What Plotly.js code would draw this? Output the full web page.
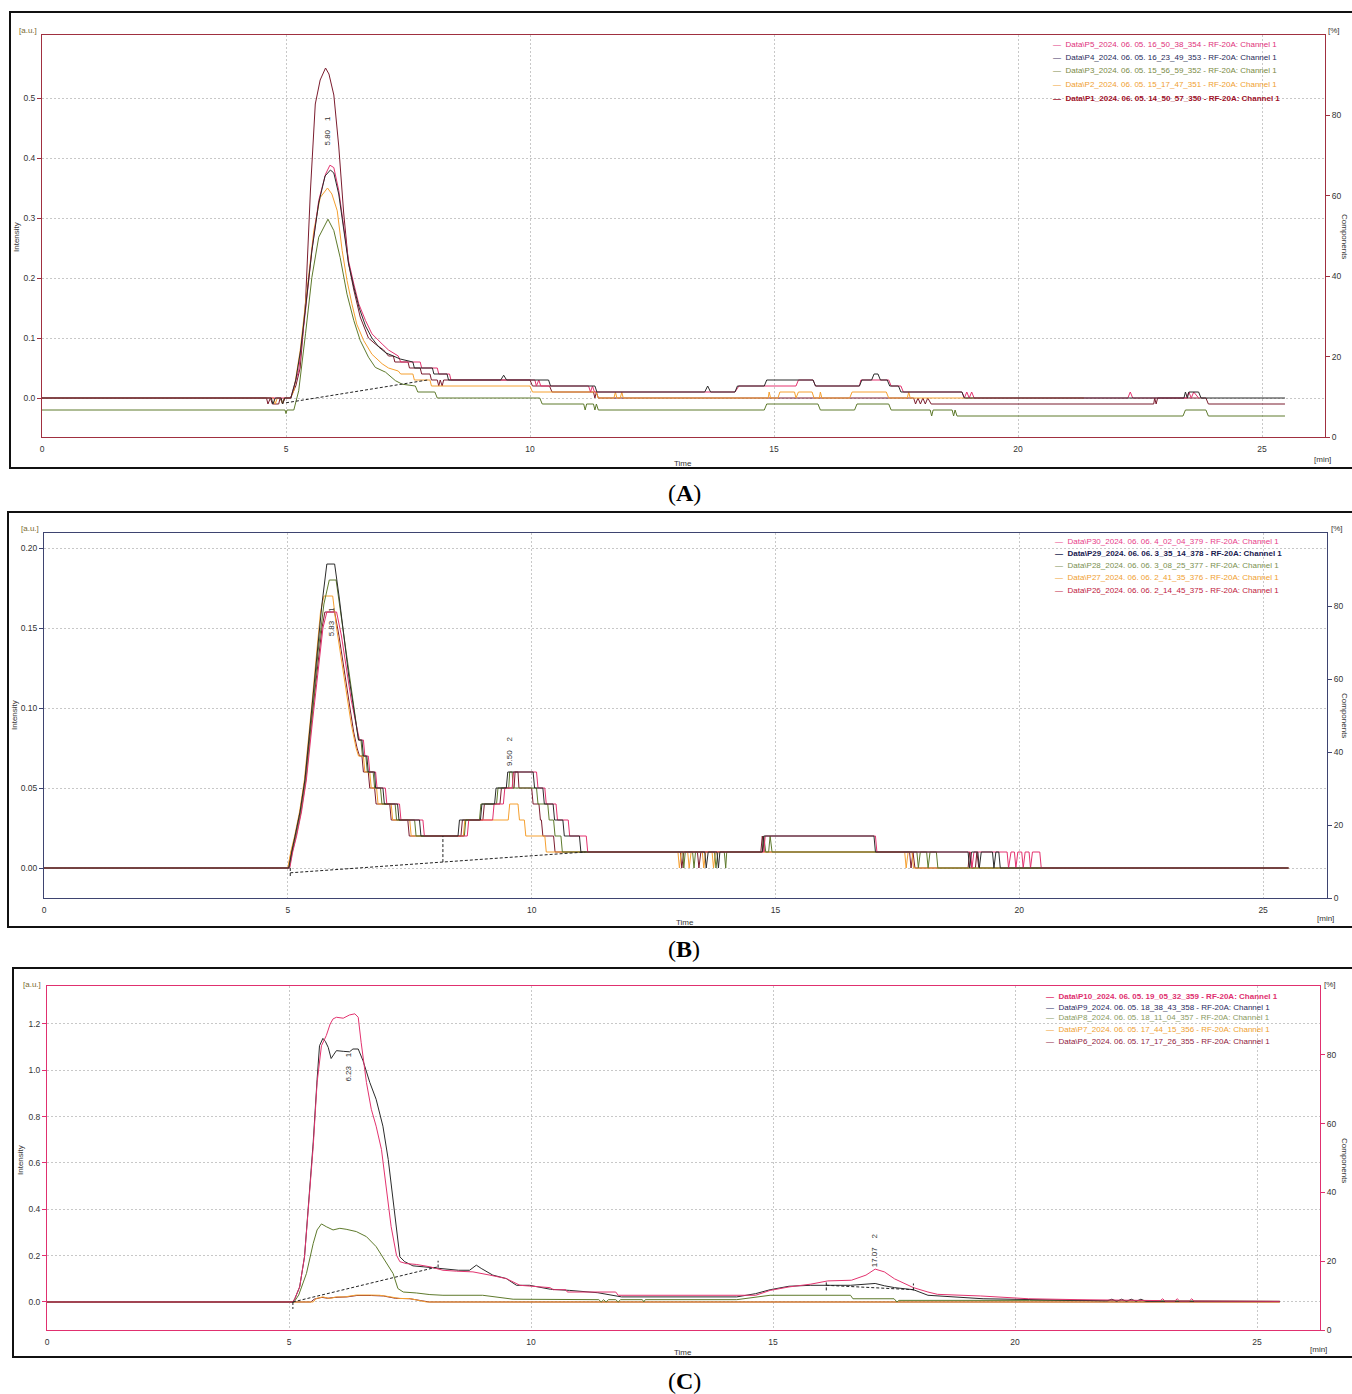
<!DOCTYPE html>
<html><head><meta charset="utf-8">
<script src="https://cdn.plot.ly/plotly-3.0.1.min.js"></script>
<style>html,body{margin:0;padding:0;background:#fff}#chart{width:1352px;height:1394px}</style>
</head><body><div id="chart"></div>
<script>
// ---------------- DATA ----------------
const xTicks = [0, 5, 10, 15, 20, 25];
const rightTicks = [0, 20, 40, 60, 80];
const yTicksA = [0, 0.1, 0.2, 0.3, 0.4, 0.5];
const yTicksB = [0, 0.05, 0.10, 0.15, 0.20];
const yTicksC = [0, 0.2, 0.4, 0.6, 0.8, 1.0, 1.2];

const namesA = [
  'Data\\P5_2024. 06. 05. 16_50_38_354 - RF-20A: Channel 1',
  'Data\\P4_2024. 06. 05. 16_23_49_353 - RF-20A: Channel 1',
  'Data\\P3_2024. 06. 05. 15_56_59_352 - RF-20A: Channel 1',
  'Data\\P2_2024. 06. 05. 15_17_47_351 - RF-20A: Channel 1',
  'Data\\P1_2024. 06. 05. 14_50_57_350 - RF-20A: Channel 1'];
const namesB = [
  'Data\\P30_2024. 06. 06. 4_02_04_379 - RF-20A: Channel 1',
  'Data\\P29_2024. 06. 06. 3_35_14_378 - RF-20A: Channel 1',
  'Data\\P28_2024. 06. 06. 3_08_25_377 - RF-20A: Channel 1',
  'Data\\P27_2024. 06. 06. 2_41_35_376 - RF-20A: Channel 1',
  'Data\\P26_2024. 06. 06. 2_14_45_375 - RF-20A: Channel 1'];
const namesC = [
  'Data\\P10_2024. 06. 05. 19_05_32_359 - RF-20A: Channel 1',
  'Data\\P9_2024. 06. 05. 18_38_43_358 - RF-20A: Channel 1',
  'Data\\P8_2024. 06. 05. 18_11_04_357 - RF-20A: Channel 1',
  'Data\\P7_2024. 06. 05. 17_44_15_356 - RF-20A: Channel 1',
  'Data\\P6_2024. 06. 05. 17_17_26_355 - RF-20A: Channel 1'];

// Panel A series [time (min), intensity]
const A_P5 = [[0,0],[5.1,0],[5.12,0.007],[5.26,0.046],[5.4,0.146],[5.53,0.246],[5.67,0.329],[5.81,0.373],[5.9,0.388],[5.98,0.384],[6.08,0.346],[6.18,0.284],[6.28,0.229],[6.39,0.19],[6.49,0.157],[6.63,0.129],[6.76,0.107],[6.97,0.09],[7.1,0.08],[7.3,0.07],[7.35,0.06],[7.75,0.06],[7.78,0.05],[8.1,0.05],[8.13,0.04],[8.35,0.04],[8.38,0.03],[10.1,0.03],[10.13,0.02],[10.18,0.03],[10.22,0.02],[11.2,0.02],[11.24,0.01],[11.28,0.02],[11.32,0.01],[14.2,0.01],[14.28,0.02],[15.45,0.02],[15.5,0.03],[15.8,0.03],[15.85,0.02],[16.75,0.02],[16.78,0.03],[17.35,0.03],[17.4,0.02],[17.6,0.02],[17.65,0.01],[18.85,0.01],[18.9,0],[18.95,0.01],[19.0,0],[19.05,0.01],[19.1,0],[22.25,0],[22.3,0.01],[22.35,0],[23.45,0],[23.5,0.01],[23.55,0],[23.6,0.01],[23.7,0]];
const A_P4 = [[0,0],[4.7,0],[4.73,-0.01],[4.78,0],[4.9,0],[4.93,-0.01],[4.97,0],[5.1,0],[5.2,0.03],[5.3,0.08],[5.4,0.15],[5.53,0.245],[5.67,0.325],[5.8,0.37],[5.91,0.38],[5.98,0.375],[6.08,0.34],[6.18,0.28],[6.28,0.225],[6.39,0.185],[6.5,0.15],[6.63,0.12],[6.76,0.1],[6.9,0.085],[7.05,0.075],[7.2,0.07],[7.34,0.065],[7.6,0.06],[7.63,0.05],[8.0,0.05],[8.03,0.04],[8.3,0.04],[8.33,0.03],[9.4,0.03],[9.46,0.038],[9.52,0.03],[10.38,0.03],[10.42,0.02],[11.33,0.02],[11.37,0.01],[13.58,0.01],[13.64,0.02],[13.7,0.01],[14.2,0.01],[14.25,0.02],[14.8,0.02],[14.85,0.03],[15.8,0.03],[15.85,0.02],[16.75,0.02],[16.8,0.03],[17.0,0.03],[17.05,0.04],[17.13,0.04],[17.18,0.03],[17.32,0.03],[17.37,0.02],[17.55,0.02],[17.6,0.01],[18.85,0.01],[18.9,0],[23.4,0],[23.43,0.01],[23.47,0],[23.5,0.01],[23.7,0.01],[23.75,0],[25.47,0]];
const A_P3 = [[0,-0.02],[4.98,-0.02],[5.0,-0.026],[5.02,-0.02],[5.16,-0.02],[5.26,0.012],[5.4,0.107],[5.53,0.201],[5.67,0.268],[5.86,0.298],[5.98,0.279],[6.11,0.234],[6.25,0.173],[6.39,0.129],[6.52,0.096],[6.69,0.068],[6.83,0.051],[7.04,0.043],[7.24,0.029],[7.38,0.023],[7.65,0.02],[7.7,0.01],[8.05,0.01],[8.1,0],[10.2,0],[10.25,-0.01],[11.1,-0.01],[11.13,-0.02],[11.16,-0.01],[11.3,-0.01],[11.33,-0.02],[11.36,-0.01],[11.4,-0.02],[14.8,-0.02],[14.85,-0.01],[15.9,-0.01],[15.95,-0.02],[16.65,-0.02],[16.7,-0.01],[17.35,-0.01],[17.4,-0.02],[18.2,-0.02],[18.23,-0.03],[18.26,-0.02],[18.65,-0.02],[18.68,-0.03],[18.71,-0.02],[18.75,-0.03],[23.38,-0.03],[23.43,-0.02],[23.85,-0.02],[23.9,-0.03],[25.47,-0.03]];
const A_P2 = [[0,0],[4.75,0],[4.78,-0.01],[4.82,0],[4.9,0],[4.93,-0.01],[4.96,0],[5.1,0],[5.16,0.012],[5.29,0.079],[5.43,0.179],[5.57,0.279],[5.7,0.334],[5.85,0.35],[5.94,0.34],[6.05,0.312],[6.15,0.246],[6.25,0.196],[6.35,0.157],[6.45,0.123],[6.59,0.096],[6.76,0.073],[6.97,0.057],[7.1,0.05],[7.3,0.045],[7.35,0.04],[7.6,0.04],[7.63,0.03],[7.95,0.03],[7.98,0.02],[10.0,0.02],[10.05,0.01],[11.35,0.01],[11.4,0],[11.72,0],[11.75,0.01],[11.78,0],[11.85,0],[11.88,0.01],[11.91,0],[14.88,0],[14.9,0.01],[14.93,0],[15.08,0],[15.12,0.01],[15.42,0.01],[15.45,0],[15.5,0.01],[15.78,0.01],[15.82,0],[15.93,0],[15.95,0.01],[15.98,0],[16.55,0],[16.6,0.01],[17.3,0.01],[17.35,0],[17.73,0],[17.76,0.01],[17.79,0],[21.35,0]];
const A_P1 = [[0,0],[4.6,0],[4.63,-0.01],[4.68,0],[4.72,-0.01],[4.85,-0.01],[4.88,0],[4.93,-0.01],[4.98,0],[5.09,0],[5.2,0.02],[5.29,0.05],[5.4,0.16],[5.5,0.345],[5.6,0.49],[5.7,0.53],[5.81,0.55],[5.88,0.54],[5.98,0.505],[6.08,0.42],[6.18,0.31],[6.28,0.225],[6.39,0.18],[6.52,0.135],[6.69,0.1],[6.83,0.09],[7.0,0.08],[7.1,0.07],[7.2,0.07],[7.23,0.06],[7.5,0.06],[7.53,0.05],[7.75,0.05],[7.78,0.04],[7.95,0.04],[7.98,0.03],[8.1,0.03],[8.13,0.02],[8.16,0.03],[8.2,0.02],[8.23,0.03],[10.0,0.03],[10.05,0.02],[10.4,0.02],[10.45,0.01],[11.3,0.01],[11.33,0],[11.36,0.01],[11.4,0],[17.86,0],[17.9,-0.01],[17.95,0],[18.0,-0.01],[18.05,0],[18.1,-0.01],[18.15,0],[18.22,-0.01],[22.78,-0.01],[22.8,0],[22.83,-0.01],[22.86,0],[23.85,0],[23.9,-0.01],[25.47,-0.01]];
const A_base = [[5.0,-0.008],[7.9,0.03]];

// Panel B series
const B_P30 = [[0,0],[5.04,0],[5.1,0.01],[5.18,0.02],[5.28,0.035],[5.38,0.055],[5.5,0.09],[5.62,0.125],[5.72,0.15],[5.8,0.16],[6.0,0.16],[6.1,0.145],[6.2,0.125],[6.3,0.105],[6.4,0.09],[6.47,0.08],[6.55,0.08],[6.58,0.07],[6.65,0.07],[6.68,0.06],[6.8,0.06],[6.83,0.05],[7.0,0.05],[7.03,0.04],[7.29,0.04],[7.32,0.03],[7.77,0.03],[7.8,0.02],[8.68,0.02],[8.71,0.03],[9.2,0.03],[9.23,0.04],[9.42,0.04],[9.45,0.05],[9.6,0.05],[9.63,0.06],[10.1,0.06],[10.13,0.05],[10.27,0.05],[10.3,0.04],[10.5,0.04],[10.53,0.03],[10.75,0.03],[10.78,0.02],[11.12,0.02],[11.15,0.01],[14.76,0.01],[14.79,0.02],[17.05,0.02],[17.08,0.01],[19.0,0.01],[19.03,0],[19.07,0.01],[19.75,0.01],[19.78,0],[19.83,0.01],[19.9,0.01],[19.93,0],[19.97,0.01],[20.05,0.01],[20.08,0],[20.12,0.01],[20.2,0.01],[20.23,0],[20.27,0.01],[20.42,0.01],[20.45,0],[25.52,0]];
const B_P29 = [[0,0],[5.02,0],[5.08,0.01],[5.15,0.02],[5.25,0.035],[5.35,0.055],[5.48,0.095],[5.6,0.135],[5.7,0.165],[5.8,0.19],[5.96,0.19],[6.05,0.17],[6.15,0.145],[6.25,0.12],[6.35,0.1],[6.45,0.08],[6.52,0.08],[6.55,0.07],[6.62,0.07],[6.65,0.06],[6.78,0.06],[6.8,0.05],[6.95,0.05],[6.98,0.04],[7.25,0.04],[7.28,0.03],[7.7,0.03],[7.73,0.02],[8.49,0.02],[8.52,0.03],[8.95,0.03],[8.98,0.04],[9.24,0.04],[9.27,0.05],[9.48,0.05],[9.51,0.06],[10.03,0.06],[10.06,0.05],[10.23,0.05],[10.26,0.04],[10.44,0.04],[10.47,0.03],[10.64,0.03],[10.67,0.02],[10.98,0.02],[11.01,0.01],[13.55,0.01],[13.58,0],[13.62,0.01],[13.8,0.01],[13.83,0],[13.86,0.01],[14.73,0.01],[14.76,0.02],[17.02,0.02],[17.05,0.01],[18.95,0.01],[18.98,0],[19.02,0.01],[19.15,0.01],[19.18,0],[19.22,0.01],[19.45,0.01],[19.48,0],[19.52,0.01],[19.58,0.01],[19.61,0],[25.52,0]];
const B_P28 = [[0,0],[5.03,0],[5.09,0.01],[5.17,0.02],[5.27,0.035],[5.37,0.055],[5.5,0.095],[5.62,0.135],[5.74,0.165],[5.85,0.18],[5.99,0.18],[6.08,0.16],[6.18,0.14],[6.28,0.115],[6.38,0.095],[6.45,0.08],[6.5,0.08],[6.53,0.07],[6.6,0.07],[6.63,0.06],[6.75,0.06],[6.78,0.05],[6.9,0.05],[6.93,0.04],[7.2,0.04],[7.23,0.03],[7.6,0.03],[7.63,0.02],[8.62,0.02],[8.65,0.03],[8.93,0.03],[8.96,0.04],[9.28,0.04],[9.31,0.05],[9.53,0.05],[9.55,0.06],[9.6,0.06],[9.62,0.05],[10.1,0.05],[10.13,0.04],[10.33,0.04],[10.36,0.03],[10.45,0.03],[10.48,0.02],[10.6,0.02],[10.63,0.01],[13.1,0.01],[13.12,0],[13.15,0.01],[13.3,0.01],[13.33,0],[13.36,0.01],[13.75,0.01],[13.78,0],[13.82,0.01],[13.95,0.01],[13.98,0],[14.0,0.01],[14.73,0.01],[14.76,0.02],[14.8,0.01],[14.86,0.01],[14.89,0.02],[14.93,0.01],[17.9,0.01],[17.93,0],[17.97,0.01],[18.1,0.01],[18.13,0],[18.17,0.01],[18.3,0.01],[18.33,0],[25.52,0]];
const B_P27 = [[0,0],[5.0,0],[5.06,0.01],[5.14,0.02],[5.24,0.035],[5.34,0.055],[5.47,0.095],[5.58,0.13],[5.67,0.16],[5.74,0.17],[5.92,0.17],[6.0,0.15],[6.1,0.13],[6.2,0.11],[6.3,0.09],[6.4,0.075],[6.45,0.07],[6.55,0.07],[6.58,0.06],[6.68,0.06],[6.71,0.05],[6.82,0.05],[6.85,0.04],[7.12,0.04],[7.15,0.03],[7.5,0.03],[7.53,0.02],[8.6,0.02],[8.63,0.03],[9.52,0.03],[9.55,0.04],[9.72,0.04],[9.75,0.03],[9.85,0.03],[9.88,0.02],[10.27,0.02],[10.3,0.01],[13.0,0.01],[13.03,0],[13.07,0.01],[13.2,0.01],[13.23,0],[13.27,0.01],[13.5,0.01],[13.53,0],[13.57,0.01],[13.7,0.01],[13.73,0],[13.77,0.01],[17.65,0.01],[17.68,0],[17.72,0.01],[17.8,0.01],[17.83,0],[25.52,0]];
const B_P26 = [[0,0],[5.01,0],[5.07,0.01],[5.15,0.02],[5.25,0.035],[5.35,0.055],[5.48,0.09],[5.6,0.125],[5.7,0.15],[5.76,0.16],[5.96,0.16],[6.05,0.145],[6.15,0.125],[6.25,0.105],[6.35,0.085],[6.42,0.075],[6.47,0.07],[6.52,0.07],[6.55,0.06],[6.65,0.06],[6.68,0.05],[6.78,0.05],[6.81,0.04],[7.09,0.04],[7.12,0.03],[7.46,0.03],[7.49,0.02],[8.55,0.02],[8.58,0.03],[9.0,0.03],[9.03,0.04],[9.35,0.04],[9.38,0.05],[9.64,0.05],[9.66,0.06],[9.72,0.06],[9.74,0.05],[10.0,0.05],[10.03,0.04],[10.15,0.04],[10.18,0.03],[10.2,0.03],[10.23,0.02],[10.45,0.02],[10.48,0.01],[13.05,0.01],[13.08,0],[13.12,0.01],[13.4,0.01],[13.43,0],[13.47,0.01],[14.7,0.01],[14.73,0.02],[14.77,0.01],[17.75,0.01],[17.78,0],[17.82,0.01],[17.86,0],[18.95,0],[18.98,0.01],[19.02,0],[19.1,0],[19.13,0.01],[19.17,0],[25.52,0]];
const B_base = [[5.05,-0.003],[11.1,0.01]];
const B_cut = [[8.18,0.0037],[8.18,0.02]];
const B_start = [[5.05,0.0],[5.05,-0.006]];

// Panel C series
const C_P10 = [[0,0],[5.08,0],[5.12,0.014],[5.22,0.065],[5.32,0.195],[5.43,0.5],[5.5,0.672],[5.58,0.947],[5.67,1.106],[5.77,1.15],[5.85,1.2],[5.91,1.222],[5.98,1.229],[6.12,1.225],[6.25,1.239],[6.36,1.244],[6.43,1.229],[6.49,1.121],[6.6,0.947],[6.7,0.832],[6.8,0.759],[6.91,0.658],[7.01,0.484],[7.11,0.325],[7.22,0.202],[7.29,0.174],[7.42,0.166],[7.63,0.162],[7.91,0.152],[8.18,0.137],[8.46,0.133],[8.8,0.13],[9.15,0.116],[9.49,0.101],[9.77,0.072],[10.39,0.062],[10.46,0.053],[10.72,0.053],[10.75,0.043],[11.75,0.043],[11.8,0.029],[14.64,0.029],[14.94,0.05],[15.33,0.065],[15.78,0.077],[16.13,0.091],[16.62,0.094],[16.92,0.116],[17.11,0.142],[17.3,0.13],[17.51,0.1],[17.9,0.062],[18.2,0.043],[18.4,0.033],[19.29,0.026],[20.28,0.014],[21.3,0.01],[23.0,0.006],[23.05,0.014],[23.1,0.004],[23.3,0.004],[23.35,0.014],[23.4,0.004],[23.6,0.004],[23.65,0.014],[23.7,0.004],[25.47,0.003]];
const C_P9 = [[0,0],[5.08,0],[5.12,0.014],[5.22,0.065],[5.32,0.195],[5.43,0.5],[5.5,0.69],[5.58,0.96],[5.63,1.106],[5.7,1.138],[5.75,1.125],[5.81,1.099],[5.87,1.051],[5.93,1.07],[5.98,1.085],[6.12,1.082],[6.25,1.08],[6.32,1.092],[6.43,1.092],[6.53,1.041],[6.67,0.947],[6.8,0.875],[6.94,0.759],[7.05,0.615],[7.15,0.441],[7.22,0.296],[7.29,0.195],[7.39,0.174],[7.56,0.156],[7.77,0.152],[8.08,0.145],[8.25,0.14],[8.5,0.137],[8.73,0.137],[8.8,0.15],[8.87,0.159],[8.97,0.145],[9.21,0.116],[9.49,0.101],[9.7,0.072],[9.97,0.072],[10.4,0.055],[10.8,0.05],[11.38,0.04],[11.87,0.022],[14.25,0.022],[14.64,0.036],[14.94,0.053],[15.33,0.068],[15.78,0.072],[16.6,0.072],[16.9,0.075],[17.11,0.08],[17.3,0.07],[17.51,0.062],[17.9,0.053],[18.2,0.029],[19.34,0.014],[20.3,0.01],[21.9,0.005],[22.0,0.012],[22.1,0.003],[22.2,0.012],[22.3,0.003],[22.4,0.012],[22.5,0.003],[22.6,0.012],[22.7,0.003],[23.8,0.003],[25.47,0.002]];
const C_P8 = [[0,0],[5.1,0],[5.12,0.005],[5.2,0.03],[5.36,0.123],[5.5,0.253],[5.58,0.311],[5.67,0.337],[5.77,0.325],[5.91,0.311],[6.05,0.318],[6.18,0.314],[6.39,0.304],[6.6,0.282],[6.8,0.239],[6.98,0.181],[7.15,0.123],[7.25,0.058],[7.36,0.043],[7.63,0.039],[7.91,0.032],[8.18,0.029],[9.0,0.029],[9.63,0.012],[11.4,0.01],[11.45,0.0],[11.5,0.01],[11.55,0.0],[11.6,0.01],[11.75,0.01],[11.8,0.0],[11.85,0.01],[12.3,0.01],[12.33,0],[12.36,0.01],[14.25,0.01],[14.64,0.022],[14.94,0.029],[16.6,0.029],[16.65,0.014],[17.5,0.014],[17.56,0],[17.6,0.007],[20.3,0.007],[25.47,0.003]];
const C_P7 = [[0,0],[5.5,0],[5.56,0.015],[5.7,0.022],[5.84,0.015],[5.98,0.022],[6.15,0.022],[6.39,0.03],[6.67,0.03],[6.87,0.029],[7.01,0.025],[7.29,0.015],[7.49,0.015],[7.7,0.007],[7.84,0],[25.47,0]];
const C_P6 = [[0,0],[5.45,0],[5.52,0.012],[5.68,0.02],[5.8,0.016],[5.95,0.02],[6.2,0.022],[6.4,0.028],[6.7,0.028],[6.95,0.026],[7.2,0.016],[7.5,0.014],[7.75,0.005],[7.9,0],[25.47,0]];
const C_base = [[5.08,0.0],[8.08,0.152]];
const C_base2 = [[16.1,0.072],[17.9,0.053]];
const C_cuts = [[[8.08,0.149],[8.08,0.178]],[[16.1,0.05],[16.1,0.088]],[[17.9,0.05],[17.9,0.08]],[[5.08,0],[5.08,-0.03]]];

// Peak labels [time, intensity, text]
const peaksA = [[5.83, 0.445, '5.80\u00a0\u00a0\u00a0\u00a01']];
const peaksB = [[5.9, 0.154, '5.83\u00a0\u00a0\u00a0\u00a01'], [9.56, 0.0727, '9.50\u00a0\u00a0\u00a0\u00a02']];
const peaksC = [[6.22, 1.012, '6.23\u00a0\u00a0\u00a0\u00a01'], [17.09, 0.224, '17.07\u00a0\u00a0\u00a0\u00a02']];

// ---------------- STYLE / LAYOUT ----------------
const W = 1352, H = 1394;
const px = x => x / W, py = y => 1 - y / H;
const FONT = 'Liberation Sans, Arial, sans-serif';
const PINK = '#e3336f', BLACK = '#2b2b2b', GREEN = '#5e7a2c', ORANGE = '#f5a030', MAROON = '#7b1c2e';

const panels = [
  {label:'A', series:[A_P5,A_P4,A_P3,A_P2,A_P1], names:namesA,
   colors:[PINK,BLACK,GREEN,ORANGE,MAROON], text:['#e0307a','#1f2a5a','#7a8a45','#f0a030','#a01028'], bold:4,
   order:[4,3,2,0,1], box:[10,12,1358,468], plot:[42,35,1325,437], xr:[0,26.29], yr:[-0.065,0.605],
   yt:yTicksA, fmt:'.1f', frame:'#a03040', base:[A_base], peaks:peaksA,
   leg:{x:1051, y:[44,57,71,84,98]}, au:[28,31], inten:[16,237], time:[683,463], min:[1322,460], pct:[1334,31], comp:[1345,236], tag:[684,493]},
  {label:'B', series:[B_P30,B_P29,B_P28,B_P27,B_P26], names:namesB,
   colors:[PINK,BLACK,GREEN,ORANGE,MAROON], text:['#e8408a','#1a2050','#7a9050','#f0a030','#c02040'], bold:1,
   order:[4,3,2,0,1], box:[8,512,1358,927], plot:[44,533,1327,898], xr:[0,26.31], yr:[-0.01875,0.2094],
   yt:yTicksB, fmt:'.2f', frame:'#3e4470', base:[B_base,B_cut,B_start], peaks:peaksB,
   leg:{x:1053, y:[541,553,565,577,590]}, au:[30,529], inten:[14,715], time:[685,922], min:[1325,918], pct:[1337,529], comp:[1345,715], tag:[684,949]},
  {label:'C', series:[C_P10,C_P9,C_P8,C_P7,C_P6], names:namesC,
   colors:[PINK,BLACK,GREEN,ORANGE,MAROON], text:['#e0306f','#2a2a60','#8a9a60','#f0a030','#902040'], bold:0,
   order:[4,3,2,1,0], box:[13,968,1358,1357], plot:[47,986,1320,1330], xr:[0,26.30], yr:[-0.1209,1.364],
   yt:yTicksC, fmt:'.1f', frame:'#e0306f', base:[C_base,C_base2].concat(C_cuts), peaks:peaksC,
   leg:{x:1044, y:[996,1007,1018,1029,1041]}, au:[32,984], inten:[20,1160], time:[683,1352], min:[1318,1349], pct:[1330,984], comp:[1345,1160], tag:[684,1381]}
];

const traces = [], annotations = [], shapes = [];
const layout = {
  width: W, height: H, margin: {l:0, r:0, t:0, b:0},
  paper_bgcolor: '#fff', plot_bgcolor: 'rgba(0,0,0,0)',
  showlegend: false, hovermode: false,
  font: {family: FONT, size: 8, color: '#333'}
};

const tf = {family: FONT, size: 8.5, color: '#333'};
const GRID = '#c8c8c8', GDASH = '2px,2px';
panels.forEach((p, i) => {
  const xId = i === 0 ? 'x' : 'x' + (i + 1);
  const yL = 2 * i + 1, yR = 2 * i + 2;
  const yLId = yL === 1 ? 'y' : 'y' + yL, yRId = 'y' + yR;
  const xKey = i === 0 ? 'xaxis' : 'xaxis' + (i + 1);
  const yLKey = yL === 1 ? 'yaxis' : 'yaxis' + yL, yRKey = 'yaxis' + yR;
  const [l, t, r, b] = p.plot;
  layout[xKey] = {domain:[px(l), px(r)], range:p.xr, anchor:yLId, tickvals:xTicks,
    showgrid:true, gridcolor:GRID, griddash:GDASH, gridwidth:1, zeroline:false,
    showline:true, mirror:true, linecolor:p.frame, linewidth:1,
    ticks:'outside', ticklen:4, tickcolor:'rgba(0,0,0,0)', tickfont:tf, fixedrange:true};
  layout[yLKey] = {domain:[py(b), py(t)], range:p.yr, anchor:xId, tickvals:p.yt, tickformat:p.fmt,
    showgrid:true, gridcolor:GRID, griddash:GDASH, gridwidth:1, zeroline:false,
    showline:true, linecolor:p.frame, linewidth:1, ticks:'outside', ticklen:4, tickcolor:p.frame,
    tickfont:tf, fixedrange:true};
  layout[yRKey] = {overlaying:yLId, side:'right', anchor:xId, range:[0,100], tickvals:rightTicks,
    showgrid:false, zeroline:false, showline:true, linecolor:p.frame, linewidth:1,
    ticks:'outside', ticklen:4, tickcolor:p.frame, tickfont:tf, fixedrange:true};

  p.order.forEach(k => {
    const s = p.series[k];
    traces.push({type:'scatter', mode:'lines', x:s.map(v => v[0]), y:s.map(v => v[1]),
      xaxis:xId, yaxis:yLId, line:{color:p.colors[k], width:1}, name:p.names[k], hoverinfo:'skip'});
  });
  p.base.forEach(s => {
    traces.push({type:'scatter', mode:'lines', x:s.map(v => v[0]), y:s.map(v => v[1]),
      xaxis:xId, yaxis:yLId, line:{color:'#222', width:1, dash:'3px,2px'}, hoverinfo:'skip'});
  });
  traces.push({type:'scatter', mode:'lines', x:[], y:[], xaxis:xId, yaxis:yRId, hoverinfo:'skip'});

  p.peaks.forEach(pk => annotations.push({xref:xId, yref:yLId, x:pk[0], y:pk[1], text:pk[2],
    textangle:-90, showarrow:false, font:{family:FONT, size:8, color:'#333'}, xanchor:'center', yanchor:'middle'}));

  p.names.forEach((n, k) => {
    const body = '\u2014\u00a0\u00a0' + n;
    annotations.push({xref:'paper', yref:'paper', x:px(p.leg.x), y:py(p.leg.y[k]), xanchor:'left', yanchor:'middle',
      showarrow:false, text:(k === p.bold ? '<b>' + body + '</b>' : body),
      font:{family:FONT, size:8, color:p.text[k]}});
  });

  const txt = (pos, text, extra) => annotations.push(Object.assign({xref:'paper', yref:'paper',
    x:px(pos[0]), y:py(pos[1]), text:text, showarrow:false, xanchor:'center', yanchor:'middle',
    font:{family:FONT, size:8, color:'#333'}}, extra || {}));
  txt(p.au, '[a.u.]', {font:{family:FONT, size:8, color:'#7a6a30'}});
  txt(p.inten, 'Intensity', {textangle:-90});
  txt(p.time, 'Time');
  txt(p.min, '[min]');
  txt(p.pct, '[%]');
  txt(p.comp, 'Components', {textangle:90});
  txt(p.tag, '(<b>' + p.label + '</b>)', {font:{family:'Liberation Serif, Times New Roman, serif', size:24, color:'#000'}});

  const [bx0, by0, bx1, by1] = p.box;
  shapes.push({type:'rect', xref:'paper', yref:'paper', x0:px(bx0), x1:px(bx1), y0:py(by1), y1:py(by0),
    line:{color:'#111', width:2}, fillcolor:'rgba(0,0,0,0)'});
});
layout.annotations = annotations;
layout.shapes = shapes;

Plotly.newPlot('chart', traces, layout, {staticPlot:true, displayModeBar:false});
</script>
</body></html>
